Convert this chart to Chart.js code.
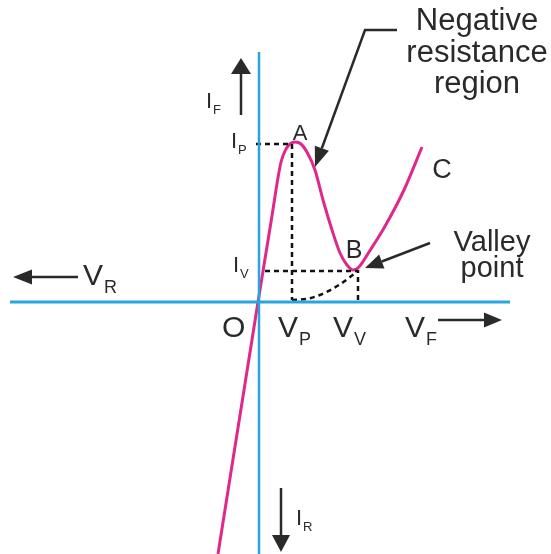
<!DOCTYPE html>
<html lang="en">
<head>
    <meta charset="UTF-8">
    <title>Tunnel Diode Characteristic</title>
    <script src="https://cdn.jsdelivr.net/npm/chart.js"></script>
    <style>
        body {
            margin: 0;
            padding: 0;
            background: #ffffff;
        }

        #chart {
            display: block;
        }
    </style>
</head>
<body>
    <canvas id="chart" width="551" height="554"></canvas>

    <script>
        // V-I curve of the tunnel diode (arbitrary units, origin at O)
        const curveV = [-41, -1, 12, 22, 27, 31, 36, 42, 49, 56, 64, 73, 81, 88, 94, 100, 110, 125, 145, 163];
        const curveI = [-252, 0, 80, 140, 153, 158, 160, 158, 148, 132, 102, 72, 49, 37, 32, 35, 50, 74, 112, 155];

        // ordinary diode curve (dashed) from Vp up to the valley point
        const diodeV = [33, 47, 61, 80, 99];
        const diodeI = [2, 3, 7, 17, 31];

        // peak and valley values
        const peakV = 33, peakI = 158;
        const valleyV = 99, valleyI = 31;

        const axisRangeV = [-249, 251];
        const axisRangeI = [-252, 250];

        const toPoints = (xs, ys) => xs.map((x, i) => ({ x: x, y: ys[i] }));

        const pink = '#e0288a';
        const blue = '#2aa3df';
        const ink = '#2a2a2a';
        const font = '"Liberation Sans", Arial, sans-serif';

        // text, in chart units
        const labels = [
            { t: 'I', s: 'F', x: -53, y: 194, size: 22 },
            { t: 'I', s: 'P', x: -28, y: 154, size: 22 },
            { t: 'I', s: 'V', x: -26, y: 30, size: 22 },
            { t: 'V', s: 'R', x: -176, y: 17, size: 30 },
            { t: 'O', s: '', x: -37, y: -35, size: 30 },
            { t: 'V', s: 'P', x: 19, y: -35, size: 30 },
            { t: 'V', s: 'V', x: 74, y: -35, size: 30 },
            { t: 'V', s: 'F', x: 146, y: -35, size: 30 },
            { t: 'I', s: 'R', x: 37, y: -223, size: 22 }
        ];

        const letters = [
            { t: 'A', x: 41, y: 162, size: 22 },
            { t: 'B', x: 95, y: 44, size: 25 },
            { t: 'C', x: 183, y: 124, size: 27 },
            { t: 'Negative', x: 218, y: 272, size: 31 },
            { t: 'resistance', x: 218, y: 240, size: 31 },
            { t: 'region', x: 218, y: 209, size: 31 },
            { t: 'Valley', x: 233, y: 51, size: 29 },
            { t: 'point', x: 233, y: 25, size: 29 }
        ];

        const arrows = [
            { pts: [[-18, 187], [-18, 244]], len: 16, w: 20 },
            { pts: [[-181, 25], [-246, 25]], len: 19, w: 15 },
            { pts: [[179, -18], [243, -18]], len: 18, w: 15 },
            { pts: [[22, -186], [22, -250]], len: 17, w: 18 },
            { pts: [[138, 272], [106, 272], [56, 135]], len: 20, w: 15 },
            { pts: [[171, 59], [106, 34]], len: 18, w: 15 }
        ];

        const drawExtras = {
            id: 'drawExtras',
            afterDatasetsDraw(chart) {
                const ctx = chart.ctx;
                const sx = chart.scales.x, sy = chart.scales.y;
                const px = v => sx.getPixelForValue(v);
                const py = v => sy.getPixelForValue(v);

                ctx.save();
                ctx.fillStyle = ink;
                ctx.strokeStyle = ink;
                ctx.lineWidth = 2.5;

                arrows.forEach(a => {
                    const p = a.pts.map(q => [px(q[0]), py(q[1])]);
                    const end = p[p.length - 1], prev = p[p.length - 2];
                    const ang = Math.atan2(end[1] - prev[1], end[0] - prev[0]);
                    const bx = end[0] - Math.cos(ang) * a.len;
                    const by = end[1] - Math.sin(ang) * a.len;

                    ctx.beginPath();
                    ctx.moveTo(p[0][0], p[0][1]);
                    for (let i = 1; i < p.length - 1; i++) ctx.lineTo(p[i][0], p[i][1]);
                    ctx.lineTo(bx, by);
                    ctx.stroke();

                    ctx.beginPath();
                    ctx.moveTo(end[0], end[1]);
                    ctx.lineTo(bx - Math.sin(ang) * a.w / 2, by + Math.cos(ang) * a.w / 2);
                    ctx.lineTo(bx + Math.sin(ang) * a.w / 2, by - Math.cos(ang) * a.w / 2);
                    ctx.closePath();
                    ctx.fill();
                });

                ctx.textBaseline = 'alphabetic';
                ctx.textAlign = 'left';
                labels.forEach(l => {
                    ctx.font = l.size + 'px ' + font;
                    const x = px(l.x), y = py(l.y);
                    ctx.fillText(l.t, x, y);
                    if (l.s) {
                        const w = ctx.measureText(l.t).width;
                        ctx.font = Math.round(l.size * 0.6) + 'px ' + font;
                        ctx.fillText(l.s, x + w + 1, y + l.size * 0.25);
                    }
                });

                ctx.textAlign = 'center';
                letters.forEach(l => {
                    ctx.font = l.size + 'px ' + font;
                    ctx.fillText(l.t, px(l.x), py(l.y));
                });

                ctx.restore();
            }
        };

        const dashed = {
            borderColor: '#111111',
            borderWidth: 2.5,
            borderDash: [5, 4],
            pointRadius: 0,
            showLine: true,
            fill: false
        };

        new Chart(document.getElementById('chart'), {
            type: 'scatter',
            data: {
                datasets: [
                    {
                        label: 'V axis',
                        data: toPoints(axisRangeV, [0, 0]),
                        borderColor: blue,
                        borderWidth: 3,
                        pointRadius: 0,
                        showLine: true
                    },
                    {
                        label: 'I axis',
                        data: toPoints([0, 0], axisRangeI),
                        borderColor: blue,
                        borderWidth: 2.5,
                        pointRadius: 0,
                        showLine: true
                    },
                    Object.assign({ label: 'Ip', data: toPoints([-3, peakV, peakV], [peakI, peakI, 2]) }, dashed),
                    Object.assign({ label: 'Iv', data: toPoints([6, valleyV, valleyV], [valleyI, valleyI, 2]) }, dashed),
                    Object.assign({ label: 'diode', data: toPoints(diodeV, diodeI), cubicInterpolationMode: 'monotone' }, dashed),
                    {
                        label: 'Tunnel diode',
                        data: toPoints(curveV, curveI),
                        borderColor: pink,
                        borderWidth: 3,
                        pointRadius: 0,
                        showLine: true,
                        cubicInterpolationMode: 'monotone'
                    }
                ]
            },
            options: {
                responsive: false,
                animation: false,
                layout: { padding: 0 },
                scales: {
                    x: { type: 'linear', min: -259, max: 292, display: false },
                    y: { type: 'linear', min: -252, max: 302, display: false }
                },
                plugins: {
                    legend: { display: false },
                    tooltip: { enabled: false }
                }
            },
            plugins: [drawExtras]
        });
    </script>
</body>
</html>
